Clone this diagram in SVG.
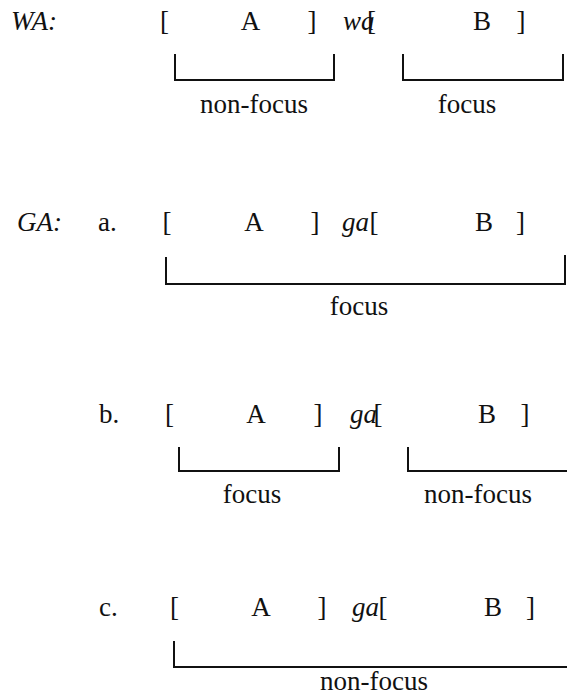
<svg xmlns="http://www.w3.org/2000/svg" width="567" height="696" viewBox="0 0 567 696" font-family="Liberation Serif, Times New Roman, serif">
  <style>
    text { font-size: 27px; fill: #111; }
    .it { font-style: italic; }
    .up { font-style: normal; }
    .c { text-anchor: middle; }
    .br { fill: none; stroke: #111; stroke-width: 2; }
  </style>
  <rect width="567" height="696" fill="#fff"/>

  <!-- WA construction -->
  <g id="wa-row">
    <text class="it" x="11" y="30">WA:</text>
    <text class="c" x="164.5" y="30">[</text>
    <text class="c" x="250.5" y="30">A</text>
    <text class="c" x="312" y="30">]</text>
    <text class="it" x="343" y="30">wa<tspan class="up" x="367">[</tspan></text>
    <text class="c" x="482" y="30">B</text>
    <text class="c" x="521" y="30">]</text>
  </g>
  <g id="wa-labels">
    <text class="c" x="254" y="113">non-focus</text>
    <text class="c" x="467" y="113">focus</text>
  </g>

  <!-- GA construction, reading a -->
  <g id="ga-a-row">
    <text class="it" x="17" y="231">GA:</text>
    <text x="98" y="231">a.</text>
    <text class="c" x="167" y="231">[</text>
    <text class="c" x="254" y="231">A</text>
    <text class="c" x="315" y="231">]</text>
    <text class="it" x="342" y="231">ga<tspan class="up" x="369.5">[</tspan></text>
    <text class="c" x="484" y="231">B</text>
    <text class="c" x="520.5" y="231">]</text>
  </g>
  <g id="ga-a-labels">
    <text class="c" x="359" y="315">focus</text>
  </g>

  <!-- GA construction, reading b -->
  <g id="ga-b-row">
    <text x="99" y="423">b.</text>
    <text class="c" x="169.5" y="423">[</text>
    <text class="c" x="256" y="423">A</text>
    <text class="c" x="318" y="423">]</text>
    <text class="it" x="350" y="423">ga<tspan class="up" x="373.5">[</tspan></text>
    <text class="c" x="487" y="423">B</text>
    <text class="c" x="525" y="423">]</text>
  </g>
  <g id="ga-b-labels">
    <text class="c" x="252" y="503">focus</text>
    <text class="c" x="478" y="503">non-focus</text>
  </g>

  <!-- GA construction, reading c -->
  <g id="ga-c-row">
    <text x="99" y="616">c.</text>
    <text class="c" x="174.5" y="616">[</text>
    <text class="c" x="261" y="616">A</text>
    <text class="c" x="322" y="616">]</text>
    <text class="it" x="352" y="616">ga<tspan class="up" x="378.5">[</tspan></text>
    <text class="c" x="493" y="616">B</text>
    <text class="c" x="530.5" y="616">]</text>
  </g>
  <g id="ga-c-labels">
    <text class="c" x="374" y="690">non-focus</text>
  </g>

  <!-- scope brackets under the constituents -->
  <g id="connectors">
    <path class="br" d="M175 54 V80 H334 V54"/>
    <path class="br" d="M403 54 V80 H563 V54"/>
    <path class="br" d="M166 257 V284 H565 V255"/>
    <path class="br" d="M179 447 V471 H339 V447"/>
    <path class="br" d="M408 447 V471 H567"/>
    <path class="br" d="M174 641 V667 H567"/>
  </g>
</svg>
